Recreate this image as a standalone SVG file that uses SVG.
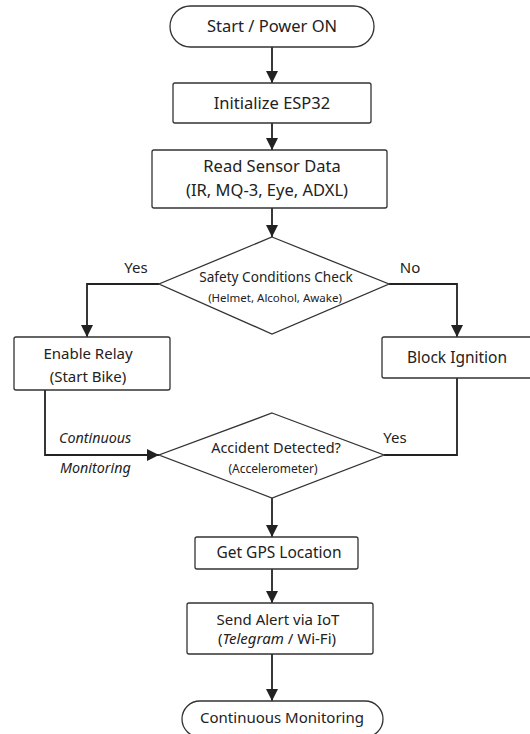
<svg xmlns="http://www.w3.org/2000/svg" width="530" height="734" viewBox="0 0 530 734">
<defs>
<marker id="arr" markerUnits="userSpaceOnUse" markerWidth="12" markerHeight="12" viewBox="0 0 12 12" refX="12" refY="6" orient="auto">
<path d="M0,0 L12,6 L0,12 Z" fill="#222"/>
</marker>
</defs>
<style>
.shape{fill:#fff;stroke:#333;stroke-width:1.3}
.t{font-family:"Noto Sans","Open Sans",sans-serif;fill:#222;text-anchor:middle}
.big{font-size:16.5px}
.m{font-size:15px}
.m2{font-size:15.5px}
.d{font-size:13.6px}
.d2{font-size:14.5px}
.s{font-size:11.5px}
.s2{font-size:12px}
.l{font-size:15px}
.i{font-style:italic}
.st{text-anchor:start;font-size:14.3px}
.c{fill:none;stroke:#222;stroke-width:1.8}
</style>
<rect width="530" height="734" fill="#fff"/>
<g id="connectors">
<path class="c" d="M272,47 V83" marker-end="url(#arr)"/>
<path class="c" d="M272,123 V150" marker-end="url(#arr)"/>
<path class="c" d="M272,208 V237" marker-end="url(#arr)"/>
<path class="c" d="M159,284 H87 V337" marker-end="url(#arr)"/>
<path class="c" d="M389,284 H457 V337" marker-end="url(#arr)"/>
<path class="c" d="M45,390 V455 H159" marker-end="url(#arr)"/>
<path class="c" d="M457,378 V455 H384"/>
<path class="c" d="M272,498 V537" marker-end="url(#arr)"/>
<path class="c" d="M272,569 V603" marker-end="url(#arr)"/>
<path class="c" d="M272,654 V701" marker-end="url(#arr)"/>
<text class="t l" x="136" y="273">Yes</text>
<text class="t l" x="410" y="273">No</text>
<text class="t l" x="395" y="443">Yes</text>
<text class="t i st" x="59" y="443">Continuous</text>
<text class="t i st" x="60" y="473">Monitoring</text>
</g>
<g id="start">
<rect class="shape" x="170" y="6" width="204" height="41" rx="20.5"/>
<text class="t big" x="272" y="32">Start / Power ON</text>
</g>
<g id="init">
<rect class="shape" x="173" y="83" width="198" height="40" rx="2"/>
<text class="t big" x="272" y="109">Initialize ESP32</text>
</g>
<g id="read">
<rect class="shape" x="152" y="150" width="235" height="58" rx="2"/>
<text class="t big" x="272" y="172">Read Sensor Data</text>
<text class="t big" x="267" y="196">(IR, MQ-3, Eye, ADXL)</text>
</g>
<g id="safety">
<polygon class="shape" points="272,237 389,284 272,334 159,284"/>
<text class="t d" x="276" y="282">Safety Conditions Check</text>
<text class="t s" x="275" y="302">(Helmet, Alcohol, Awake)</text>
</g>
<g id="relay">
<rect class="shape" x="14" y="337" width="156" height="53" rx="2"/>
<text class="t m" x="88" y="359">Enable Relay</text>
<text class="t m" x="88" y="382">(Start Bike)</text>
</g>
<g id="block">
<rect class="shape" x="382" y="337" width="150" height="41" rx="2"/>
<text class="t m2" x="457" y="363">Block Ignition</text>
</g>
<g id="accident">
<polygon class="shape" points="272,413 384,455 272,498 159,455"/>
<text class="t d2" x="276" y="453">Accident Detected?</text>
<text class="t s2" x="273" y="473">(Accelerometer)</text>
</g>
<g id="gps">
<rect class="shape" x="195" y="537" width="163" height="32" rx="2"/>
<text class="t m2" x="279" y="558">Get GPS Location</text>
</g>
<g id="alert">
<rect class="shape" x="187" y="603" width="186" height="51" rx="2"/>
<text class="t m" x="278" y="625">Send Alert via IoT</text>
<text class="t m" x="277" y="644">(<tspan class="i">Telegram</tspan> / Wi-Fi)</text>
</g>
<g id="monitor">
<rect class="shape" x="182" y="701" width="201" height="36" rx="18"/>
<text class="t m" x="282" y="723">Continuous Monitoring</text>
</g>
</svg>
